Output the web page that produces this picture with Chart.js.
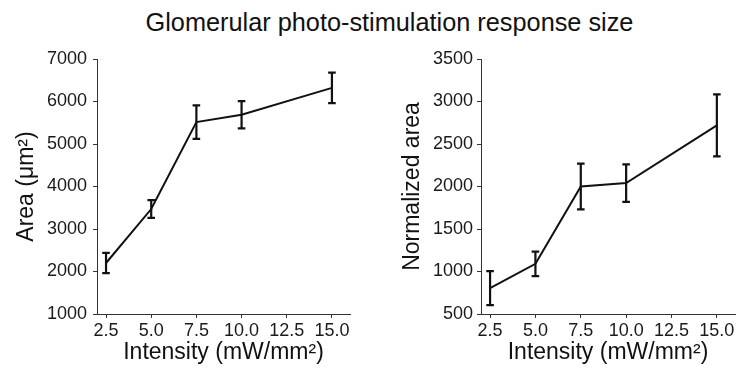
<!DOCTYPE html>
<html>
<head>
<meta charset="utf-8">
<script src="https://cdn.jsdelivr.net/npm/chart.js@4/dist/chart.umd.min.js"></script>
<style>
  html, body { margin: 0; padding: 0; background: #fff; }
  body { width: 739px; height: 369px; position: relative; overflow: hidden; font-family: "Liberation Sans", Arial, sans-serif; }
  #title { position: absolute; left: 0; width: 779px; top: 6px; text-align: center; font-size: 25.3px; color: #111; line-height: 32px; }
  .box { position: absolute; top: 40px; height: 329px; }
  #leftBox { left: 0; width: 370px; }
  #rightBox { left: 370px; width: 369px; }
</style>
</head>
<body>
<div id="title">Glomerular photo-stimulation response size</div>
<div class="box" id="leftBox"><canvas id="c1"></canvas></div>
<div class="box" id="rightBox"><canvas id="c2"></canvas></div>
<script>
// ---- data ----
const intensity = [2.5, 5.0, 7.5, 10.0, 15.0];
const areaMean = [2200, 3470, 5515, 5690, 6320];
const areaErr  = [240, 210, 395, 320, 360];
const normMean = [805, 1090, 2000, 2040, 2720];
const normErr  = [200, 145, 270, 220, 365];
const xTicks = [2.5, 5.0, 7.5, 10.0, 12.5, 15.0];
const areaTicks = [1000, 2000, 3000, 4000, 5000, 6000, 7000];
const normTicks = [500, 1000, 1500, 2000, 2500, 3000, 3500];
const xTitle = 'Intensity (mW/mm²)';
const areaTitle = 'Area (μm²)';
const normTitle = 'Normalized area';

const FONT = '"Liberation Sans", Arial, sans-serif';

const errorBars = {
  id: 'errorBars',
  afterDatasetsDraw(chart, args, opts) {
    const ctx = chart.ctx;
    const ys = chart.scales.y;
    const meta = chart.getDatasetMeta(0);
    const means = opts.means, errs = opts.errs;
    ctx.save();
    ctx.strokeStyle = '#111';
    ctx.lineWidth = 2.2;
    ctx.lineCap = 'butt';
    meta.data.forEach((pt, i) => {
      const x = pt.x;
      const yTop = ys.getPixelForValue(means[i] + errs[i]);
      const yBot = ys.getPixelForValue(means[i] - errs[i]);
      ctx.beginPath();
      ctx.moveTo(x, yTop); ctx.lineTo(x, yBot);
      ctx.moveTo(x - 3.8, yTop); ctx.lineTo(x + 3.8, yTop);
      ctx.moveTo(x - 3.8, yBot); ctx.lineTo(x + 3.8, yBot);
      ctx.stroke();
    });
    ctx.restore();
  }
};

function makeChart(id, means, errs, yTicks, yTitle, cfg) {
  const pts = intensity.map((x, i) => ({ x: x, y: means[i] }));
  return new Chart(document.getElementById(id), {
    type: 'line',
    data: { datasets: [{ data: pts, borderColor: '#111', borderWidth: 2, pointRadius: 0, tension: 0, fill: false }] },
    options: {
      responsive: true,
      maintainAspectRatio: false,
      animation: false,
      events: [],
      layout: { padding: { top: 19, right: cfg.padRight, left: 0, bottom: 0 } },
      plugins: {
        legend: { display: false },
        tooltip: { enabled: false },
        errorBars: { means: means, errs: errs }
      },
      scales: {
        x: {
          type: 'linear', min: 2, max: 16,
          afterBuildTicks: (axis) => { axis.ticks = xTicks.map(v => ({ value: v })); },
          afterFit: (s) => { s.height = 55; },
          grid: { display: true, drawOnChartArea: false, drawTicks: true, tickLength: 4, color: '#333' },
          border: { display: true, color: '#333', width: 1 },
          ticks: { color: '#1a1a1a', font: { family: FONT, size: 18 }, padding: 2, maxRotation: 0, autoSkip: false,
                   callback: (v) => Number(v).toFixed(1) },
          title: { display: true, text: xTitle, color: '#111', font: { family: FONT, size: 23 }, padding: { top: 3, bottom: 3 } }
        },
        y: {
          type: 'linear', min: yTicks[0], max: yTicks[yTicks.length - 1],
          afterBuildTicks: (axis) => { axis.ticks = yTicks.map(v => ({ value: v })); },
          afterFit: (s) => { s.width = cfg.yWidth; },
          grid: { display: true, drawOnChartArea: false, drawTicks: true, tickLength: 4, color: '#333' },
          border: { display: true, color: '#333', width: 1 },
          ticks: { color: '#1a1a1a', font: { family: FONT, size: 18 }, padding: cfg.tickPad, autoSkip: false,
                   callback: (v) => String(v) },
          title: { display: true, text: yTitle, color: '#111', font: { family: FONT, size: 23 }, padding: { top: cfg.titlePad, bottom: cfg.titlePad } }
        }
      }
    },
    plugins: [errorBars]
  });
}

makeChart('c1', areaMean, areaErr, areaTicks, areaTitle, { padRight: 20, yWidth: 97, tickPad: 6, titlePad: 13 });
makeChart('c2', normMean, normErr, normTicks, normTitle, { padRight: 4, yWidth: 111, tickPad: 4, titlePad: 29 });
</script>
</body>
</html>
